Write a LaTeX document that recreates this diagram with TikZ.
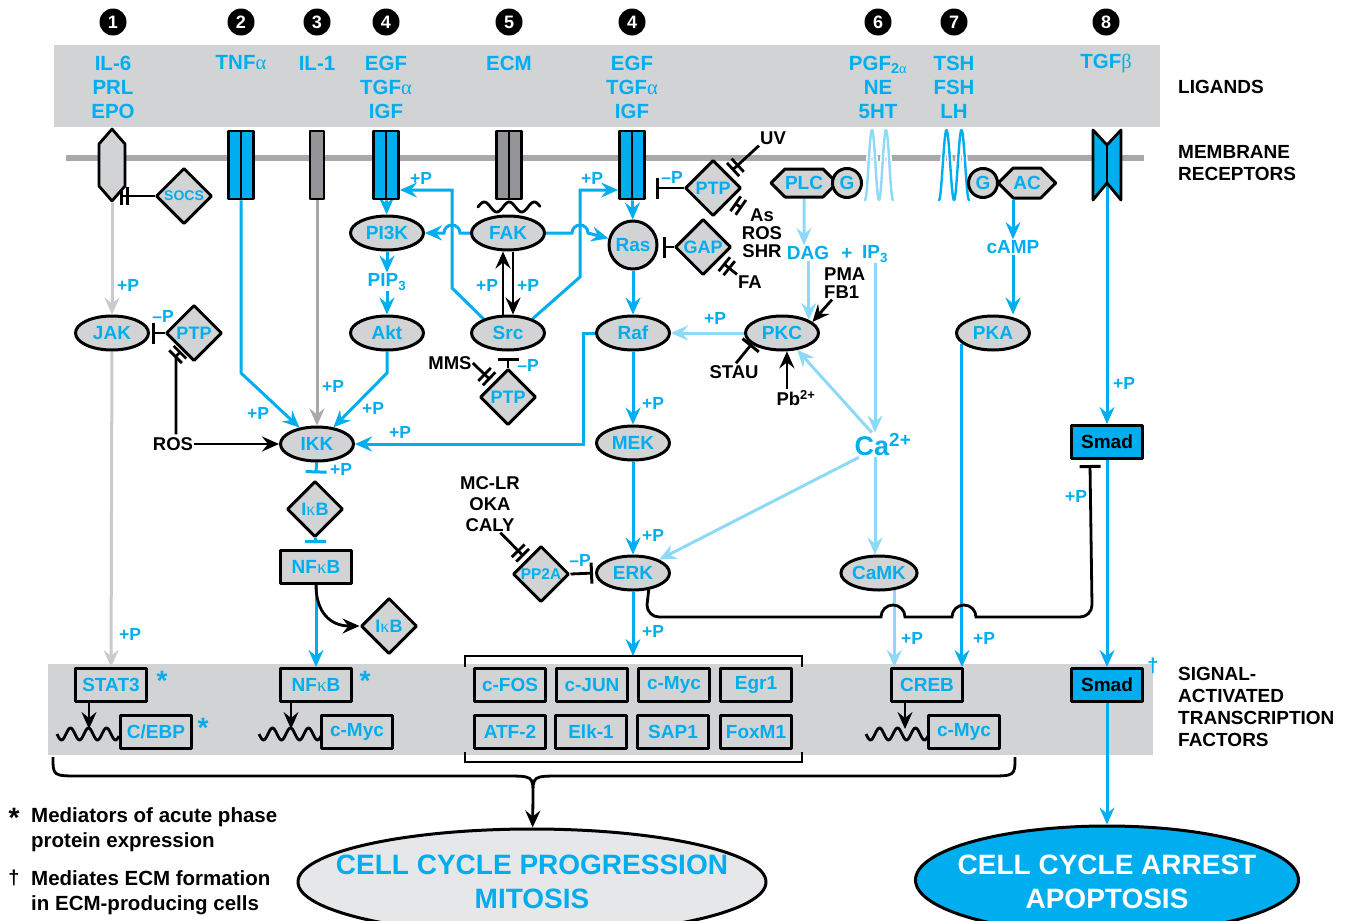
\documentclass[tikz,border=0pt]{standalone}
\usepackage{fontspec}
\setmainfont{Liberation Sans}
\newfontfamily\grk{Liberation Serif}
\usetikzlibrary{arrows.meta,shapes.geometric,shapes.symbols,calc}
\definecolor{cyn}{HTML}{00AEEF}
\definecolor{ltb}{HTML}{8ED8F8}
\definecolor{bandg}{HTML}{D1D3D4}
\definecolor{memg}{HTML}{A7A9AC}
\definecolor{recg}{HTML}{939598}
\definecolor{palg}{HTML}{C9CACC}
\definecolor{ellg}{HTML}{E6E7E8}
\pgfdeclarelayer{back}
\pgfsetlayers{back,main}
\newcommand{\fs}[2]{\fontsize{#1}{#2}\selectfont}
\newcommand{\ka}{{\grk\mdseries κ}}
\newcommand{\al}{{\grk\mdseries α}}

\begin{document}
\begin{tikzpicture}[x=1pt,y=-1pt,line cap=round,line join=round,
  >={Stealth[length=17pt,width=15pt,inset=6pt]},
  every node/.style={inner sep=1pt,font=\bfseries\fs{19}{22}},
  num/.style={circle,fill=black,text=white,minimum size=27pt,inner sep=0pt,font=\bfseries\fs{18}{18}},
  lig/.style={text=cyn,align=center,font=\bfseries\fs{20.5}{24}},
  side/.style={anchor=west,align=left,font=\bfseries\fs{19}{22}},
  ell/.style={ellipse,draw,line width=3pt,fill=bandg,text=cyn,minimum width=73pt,minimum height=34pt,inner sep=0pt},
  dia/.style={diamond,draw,line width=3pt,fill=bandg,text=cyn,minimum width=56pt,minimum height=56pt,inner sep=0pt,font=\bfseries\fs{18}{18}},
  box/.style={rectangle,draw,line width=3pt,fill=bandg,text=cyn,minimum width=71pt,minimum height=33pt,inner sep=0pt},
  hexa/.style={signal,signal to=west and east,draw,line width=3pt,fill=bandg,text=cyn,minimum width=57pt,minimum height=28pt,inner sep=0pt},
  gcirc/.style={circle,draw,line width=3pt,fill=bandg,text=cyn,minimum size=29pt,inner sep=0pt},
  rcp/.style={rectangle,draw,line width=2.8pt,minimum width=25pt,minimum height=68pt,inner sep=0pt},
  dbl/.style={rcp,path picture={\draw[line width=2.8pt] (path picture bounding box.north) -- (path picture bounding box.south);}},
  txt/.style={text=black,align=center,font=\bfseries\fs{18.5}{21}},
  ctxt/.style={text=cyn},
  pp/.style={text=cyn,font=\bfseries\fs{17.5}{17.5}},
  cl/.style={draw=cyn,line width=3pt},
  lb/.style={draw=ltb,line width=3pt},
  gl/.style={draw=memg,line width=3pt},
  pg/.style={draw=palg,line width=3pt},
  bl/.style={draw=black,line width=2.8pt},
  inh/.style={-{Bar[width=21pt,line width=3pt]}},
  inh2/.style={-{Bar[width=18pt,line width=2.8pt,sep=3.5pt]Bar[width=18pt,line width=2.8pt]}}]
  \useasboundingbox (0,0) rectangle (1347,921);
  % bands and membrane
  \begin{pgfonlayer}{back}
    \fill[bandg] (54,45) rectangle (1160,127);
    \fill[bandg] (48,664) rectangle (1153,755);
    \draw[memg,line width=6.5pt,line cap=butt] (66,158) -- (1144,158);
  \end{pgfonlayer}
  % numbers and ligands
  \foreach \x/\n [count=\i] in {113/1,241/2,317/3,386/4,509/5,632/4,878/6,954/7,1106/8}
    \node[num] (num\i) at (\x,22) {\n};
  \node[lig] (lg1) at (113,87) {IL-6\\PRL\\EPO};
  \node[lig] (lg2) at (241,63) {TNF\al};
  \node[lig] (lg3) at (317,63) {IL-1};
  \node[lig] (lg4) at (386,87) {EGF\\TGF\al\\IGF};
  \node[lig] (lg5) at (509,63) {ECM};
  \node[lig] (lg6) at (632,87) {EGF\\TGF\al\\IGF};
  \node[lig] (lg7) at (878,87) {PGF\textsubscript{2\al}\\NE\\5HT};
  \node[lig] (lg8) at (954,87) {TSH\\FSH\\LH};
  \node[lig] (lg9) at (1106,63) {TGF{\grk\mdseries β}};
  \node[side] (sl1) at (1177,87) {LIGANDS};
  \node[side] (sl2) at (1177,163) {MEMBRANE\\RECEPTORS};
  \node[side] (sl3) at (1177,707) {SIGNAL-\\ACTIVATED\\TRANSCRIPTION\\FACTORS};
  % receptors
  \node[signal,signal to=north and south,signal pointer angle=82,draw,line width=2.8pt,fill=bandg,minimum width=26pt,minimum height=42pt,inner sep=0pt] (rc1) at (112,165) {};
  \node[dbl,fill=cyn] (rc2) at (241,165) {};
  \node[rcp,fill=recg,minimum width=14pt] (rc3) at (317,165) {};
  \node[dbl,fill=cyn] (rc4a) at (386,165) {};
  \node[dbl,fill=recg] (rc5) at (509,165) {};
  \node[dbl,fill=cyn] (rc4b) at (632,165) {};
  \coordinate (rc6) at (879,165);
  \coordinate (rc7) at (954,165);
  \coordinate (rc8) at (1107,165);
  \draw[ltb,line width=2.4pt,preaction={draw,white,line width=5.5pt}] plot[domain=0:28,samples=90,smooth] ({865+\x},{165+35*cos(\x*25.714)});
  \draw[cyn,line width=2.4pt,preaction={draw,white,line width=5.5pt}] plot[domain=0:30,samples=90,smooth] ({939+\x},{165+35*cos(\x*24)});
  \draw[line width=2.8pt,fill=cyn] (1093,130) -- (1107,145) -- (1121,130) -- (1121,200) -- (1107,183) -- (1093,200) -- cycle;
  \draw[line width=2.8pt] (1107,145) -- (1107,183);
  \draw[bl] plot[domain=0:62,samples=60,smooth] ({478+\x},{207-5*sin(\x*14.4)});
  % pathway nodes
  \node[dia,font=\bfseries\fs{14}{14}] (socs) at (184,196) {SOCS};
  \node[ell] (jak) at (112,333) {JAK};
  \node[dia] (ptpj) at (194,333) {PTP};
  \node[txt] (ros) at (173,444) {ROS};
  \node[ell] (ikk) at (317,444) {IKK};
  \node[ell] (pik) at (387,233) {PI3K};
  \node[ctxt] (pip) at (387,282) {PIP\textsubscript{3}};
  \node[ell] (akt) at (387,333) {Akt};
  \node[ell] (fak) at (508,233) {FAK};
  \node[ell] (src) at (508,333) {Src};
  \node[dia] (ptps) at (508,397) {PTP};
  \node[txt] (mms) at (450,363) {MMS};
  \node[circle,draw,line width=3pt,fill=bandg,text=cyn,minimum size=48pt,inner sep=0pt] (ras) at (633,245) {Ras};
  \node[dia] (ptpr) at (713,188) {PTP};
  \node[dia] (gap) at (703,247) {GAP};
  \node[txt] (uv) at (773,138) {UV};
  \node[txt,font=\bfseries\fs{18.5}{18}] (asros) at (762,233) {As\\ROS\\SHR};
  \node[txt] (fa) at (750,282) {FA};
  \node[ell] (raf) at (633,333) {Raf};
  \node[ell] (mek) at (633,443) {MEK};
  \node[ell] (erk) at (633,573) {ERK};
  \node[dia,font=\bfseries\fs{15.5}{15.5}] (pp2a) at (541,574) {PP2A};
  \node[txt] (mclr) at (490,504) {MC-LR\\OKA\\CALY};
  \node[hexa] (plc) at (804,183) {PLC};
  \node[gcirc] (gp) at (847,183) {G};
  \node[ctxt] (dag) at (808,253) {DAG};
  \node[ctxt] (plus) at (847,254) {+};
  \node[ctxt] (ipt) at (875,254) {IP\textsubscript{3}};
  \node[txt,anchor=west,align=left,font=\bfseries\fs{18.5}{18}] (pma) at (823,283) {PMA\\FB1};
  \node[ell] (pkc) at (782,333) {PKC};
  \node[txt] (stau) at (734,372) {STAU};
  \node[txt] (pb) at (796,398) {Pb\textsuperscript{2+}};
  \node[ctxt,font=\bfseries\fs{27}{27}] (ca) at (883,445) {Ca\textsuperscript{2+}};
  \node[ell] (camk) at (879,573) {CaMK};
  \node[gcirc] (ga) at (983,183) {G};
  \node[hexa,minimum width=56pt,minimum height=30pt] (ac) at (1027,183) {AC};
  \node[ctxt] (camp) at (1013,247) {cAMP};
  \node[ell] (pka) at (993,333) {PKA};
  \node[box,fill=cyn,text=black] (smad) at (1107,442) {Smad};
  \node[dia] (ikb) at (315,509) {I\ka B};
  \node[box] (nfkb) at (316,567) {NF\ka B};
  \node[dia] (ikbb) at (389,626) {I\ka B};
  % transcription factors
  \node[box] (stat3) at (111,685) {STAT3};
  \node[box] (cebp) at (156,732) {C/EBP};
  \node[box] (nfkbt) at (316,685) {NF\ka B};
  \node[box] (myca) at (357,732) {c-Myc};
  \foreach \nm/\x/\y/\t in {cfos/510/685/c-FOS,cjun/592/685/c-JUN,mycb/674/685/c-Myc,egr/756/685/Egr1,
      atf/510/732/ATF-2,elk/591/732/Elk-1,sap/673/732/SAP1,fox/756/732/FoxM1}
    \node[box] (\nm) at (\x,\y) {\t};
  \node[box] (creb) at (927,685) {CREB};
  \node[box] (mycc) at (964,732) {c-Myc};
  \node[box,fill=cyn,text=black] (smadt) at (1107,685) {Smad};
  \foreach \x/\y [count=\i] in {162/681,203/728,365/681}
    \node[ctxt,font=\bfseries\fs{28}{28}] (st\i) at (\x,\y) {*};
  \node[ctxt,font=\bfseries\fs{20}{20}] (dg) at (1153,666) {†};
  % outcomes and notes
  \node[ellipse,draw,line width=3pt,fill=ellg,minimum width=468pt,minimum height=106pt] (prog) at (532,882) {};
  \node[text=cyn,align=center,font=\bfseries\fs{28}{34}] (progt) at (532,882) {CELL CYCLE PROGRESSION\\MITOSIS};
  \node[ellipse,draw,line width=3pt,fill=cyn,minimum width=383pt,minimum height=108pt] (apop) at (1107,880) {};
  \node[text=white,align=center,font=\bfseries\fs{28}{34}] (apopt) at (1107,882) {CELL CYCLE ARREST\\APOPTOSIS};
  \node[font=\bfseries\fs{28}{28}] (fst) at (14,818) {*};
  \node[anchor=west,align=left,font=\bfseries\fs{20.5}{25}] (fn1) at (30,830) {Mediators of acute phase\\protein expression};
  \node[font=\bfseries\fs{20}{20}] (fdg) at (14,878) {†};
  \node[anchor=west,align=left,font=\bfseries\fs{20.5}{25}] (fn2) at (30,893) {Mediates ECM formation\\in ECM-producing cells};
  % phosphorylation labels
  \foreach \x/\y/\t [count=\i] in {128/285/+P,130/634/+P,163/316/–P,258/413/+P,333/386/+P,373/408/+P,
      400/432/+P,341/469/+P,421/178/+P,592/178/+P,487/285/+P,528/285/+P,528/365/–P,672/177/–P,
      715/318/+P,653/403/+P,653/535/+P,580/560/–P,653/631/+P,912/638/+P,984/638/+P,1124/383/+P,1076/496/+P}
    \node[pp] (pl\i) at (\x,\y) {\t};
  \coordinate (kA) at (452,190);
  \coordinate (kB) at (580,190);
  \coordinate (brk) at (633,656);
  \coordinate (bcusp) at (533,795);
  \coordinate (wv1) at (89,729);
  \coordinate (wv2) at (291,729);
  \coordinate (wv3) at (905,729);
  % connectors
  \begin{pgfonlayer}{back}
    \draw[bl,inh2] (socs.west) -- ($(rc1.center)+(8,31)$);
    \draw[pg,->] (rc1.south) -- (jak);
    \draw[pg,->] (jak) -- (stat3);
    \draw[bl,inh,shorten >=2pt] (ptpj.west) -- (jak.east);
    \draw[bl,inh2] ($(ros.north)+(3,-2)$) -- ++(0,-78) -- ++(5,-5);
    \draw[bl,->] (ros) -- (ikk);
    \draw[cl,->] (rc2.south) -- (241,373) -- (ikk);
    \draw[gl,->] (rc3) -- (ikk);
    \draw[cl,->] (rc4a) -- (pik);
    \draw[cl,->] (pik) -- (pip);
    \draw[cl,->] (pip) -- (akt);
    \draw[cl,->] (akt.south) -- (387,373) -- (ikk);
    \draw[cl,inh,shorten >=7pt] (ikk) -- (ikb);
    \draw[cl,inh,shorten >=6pt] (ikb) -- (nfkb);
    \draw[cl,->] (nfkb) -- (nfkbt);
    \draw[bl,->] (nfkb.south) .. controls (316,612) and (330,626) .. (ikbb.west);
    \draw[cl,->] (fak.west) -- (460,233) arc[start angle=0,end angle=180,radius=8pt] -- (pik);
    \draw[cl,->] (fak.east) -- (572,233) arc[start angle=180,end angle=0,radius=8pt] -- (ras);
    \draw[cl,->] (src.150) -- (452,288) -- (kA) -- (kA -| rc4a.east);
    \draw[cl,->] (src.30) -- (580,277) -- (kB) -- (kB -| rc4b.west);
    \draw[bl,->] ($(src.north)+(-5,0)$) -- ($(fak.south)+(-5,0)$);
    \draw[bl,->] ($(fak.south)+(5,0)$) -- ($(src.north)+(5,0)$);
    \draw[bl,inh,shorten >=6pt] (ptps) -- (src);
    \draw[bl,inh2,shorten >=4pt] (mms.east) -- (ptps);
    \draw[cl,->] (rc4b) -- (ras);
    \draw[bl,inh,shorten >=10pt] (ptpr.west) -- (ptpr.west -| rc4b.east);
    \draw[bl,inh,shorten >=4pt] (gap.west) -- (gap.west -| ras.east);
    \draw[bl,inh2,shorten >=5pt] (uv.south west) -- (ptpr);
    \draw[bl,inh2,shorten >=5pt] (asros.north west) -- (ptpr);
    \draw[bl,inh2,shorten >=5pt] (fa.north west) -- (gap);
    \draw[cl,->] (ras) -- (raf);
    \draw[cl,->] (raf.west) -- (583,333) -- (583,444) -- (ikk);
    \draw[cl,->] (raf) -- (mek);
    \draw[cl,->] (mek) -- (erk);
    \draw[cl,->] (erk) -- (brk);
    \draw[bl,inh2,shorten >=4pt] (mclr.-70) -- (pp2a);
    \draw[bl,inh,shorten >=2pt] (pp2a.east) -- (erk.west);
    \draw[lb,->] (plc) -- (plc |- dag.north);
    \draw[lb,->] (dag.south -| pkc.26) -- (pkc.26);
    \draw[bl,->] ($(pma.south west)+(9,0)$) -- (pkc.20);
    \draw[lb,->] (pkc) -- (raf);
    \draw[bl,inh] ($(stau.north)+(2,-1)$) -- (pkc.200);
    \draw[bl,->] (pkc.-75 |- pb.north) -- (pkc.-75);
    \draw[lb,->] (ipt) -- (ipt |- ca.north);
    \draw[lb,->] (ca) -- (pkc);
    \draw[lb,->] (ca) -- (erk);
    \draw[lb,->] (ipt |- ca.south) -- (ipt |- camk.north);
    \draw[lb,->] (camk.-48) -- (camk.-48 |- creb.north);
    \draw[cl,->] (ac.south -| camp) -- (camp);
    \draw[cl,->] (camp) -- (camp |- pka.north);
    \draw[cl,->] (pka.199) -- (pka.199 |- creb.north);
    \draw[bl,inh] (erk.-47) -- (647,605) arc[start angle=180,end angle=270,radius=12pt]
      -- (881,617) arc[start angle=180,end angle=0,radius=12pt]
      -- (952,617) arc[start angle=180,end angle=0,radius=12pt]
      -- (1080,617) arc[start angle=270,end angle=360,radius=12pt]
      -- ($(smad.south west)+(20,5)$);
    \draw[cl,->] (rc8) -- (smad);
    \draw[cl,->] (smad) -- (smadt);
    \draw[cl,->] (smadt) -- (apop);
    % genes
    \draw[bl] plot[domain=0:62,samples=60,smooth] ({57+\x},{734+6*sin(\x*20)});
    \draw[bl] plot[domain=0:62,samples=60,smooth] ({259+\x},{734+6*sin(\x*20)});
    \draw[bl] plot[domain=0:62,samples=60,smooth] ({866+\x},{734+6*sin(\x*20)});
    \draw[bl,->] (stat3.south -| wv1) -- (wv1);
    \draw[bl,->] (nfkbt.south -| wv2) -- (wv2);
    \draw[bl,->] (creb.south -| wv3) -- (wv3);
    % brackets
    \draw[bl] (465,667) -- (465,656) -- (802,656) -- (802,667);
    \draw[bl] (465,752) -- (465,762) -- (802,762) -- (802,752);
    \draw[bl] (53,757) .. controls (53,776) .. (80,776) -- (505,776) .. controls (533,776) .. (bcusp)
      .. controls (533,776) .. (561,776) -- (988,776) .. controls (1015,776) .. (1015,757);
    \draw[bl,->] (bcusp) -- (prog);
  \end{pgfonlayer}
\end{tikzpicture}
\end{document}
